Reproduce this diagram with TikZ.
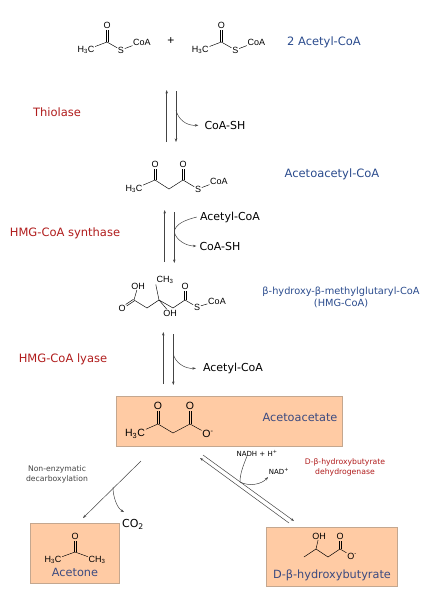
\documentclass[tikz,border=0pt]{standalone}
\usepackage{fontspec}
\setmainfont{DejaVu Sans}
\newfontfamily\atomfont{Liberation Sans}
\usepackage{xcolor}
\definecolor{enzymered}{HTML}{B01C1C}
\definecolor{metblue}{HTML}{2A4B8D}
\definecolor{boxblue}{HTML}{3B4A80}
\definecolor{boxfill}{HTML}{FFCBA4}
\definecolor{boxline}{HTML}{C4A78F}
\definecolor{linegrey}{HTML}{444444}
\usetikzlibrary{arrows.meta, positioning, calc}
\newcommand{\atomsize}[1]{\fontsize{#1}{#1}\selectfont}
\newcommand{\dblbond}[2]{%
  \draw[bond, shorten >=5pt] ($(#1)!0.9pt!90:(#2)$) -- ($(#2)!0.9pt!-90:(#1)$);
  \draw[bond, shorten >=5pt] ($(#1)!0.9pt!-90:(#2)$) -- ($(#2)!0.9pt!90:(#1)$);}

\begin{document}
\begin{tikzpicture}[
  x=1pt, y=-1pt,
  atom/.style={inner sep=0.6pt, font=\atomfont\atomsize{9}, text=black},
  bigatom/.style={inner sep=0.8pt, font=\atomfont\atomsize{10.5}, text=black},
  bond/.style={draw=black, line width=0.45pt},
  rxn/.style={draw=linegrey, line width=0.5pt, -{Stealth[length=3.5pt,width=2.5pt]}},
  sidearrow/.style={draw=linegrey, line width=0.5pt, -{Stealth[length=3.5pt,width=2.5pt]}},
  sideline/.style={draw=linegrey, line width=0.5pt},
  enzyme/.style={font=\atomsize{11.5}, text=enzymered, align=center, inner sep=0pt},
  metabolite/.style={font=\atomsize{11.5}, text=metblue, align=center, inner sep=0pt},
  cofactor/.style={font=\atomsize{11}, text=black, inner sep=3pt},
  smallnote/.style={font=\atomsize{7.7}, text=linegrey, align=center, inner sep=0pt},
  peachbox/.style={draw=boxline, fill=boxfill, line width=0.6pt, inner sep=0pt},
  boxlabel/.style={font=\atomsize{11.3}, text=boxblue, inner sep=0pt},
]
  \useasboundingbox (0,0) rectangle (424,600);

  % Acetyl-CoA pair
  \foreach \n/\dx in {a/0, b/114.3} {
    \node[atom] (h\n) at (86+\dx,50) {H\textsubscript{3}C};
    \coordinate (c\n) at (107+\dx,42);
    \node[atom] (o\n) at (107+\dx,25) {O};
    \node[atom] (s\n) at (121+\dx,50) {S};
    \node[atom] (coa\n) at (142+\dx,42) {CoA};
    \draw[bond] (h\n) -- (c\n) -- (s\n) -- (coa\n);
    \dblbond{c\n}{o\n}
  }
  \node[font=\atomfont\atomsize{12}, inner sep=0pt] (plus) at (171,41) {+};
  \node[metabolite] (acetylcoa) at (324,42) {2 Acetyl-CoA};

  % Thiolase
  \node[enzyme] (thiolase) at (57,112) {Thiolase};
  \coordinate (up1a) at (166.7,142); \coordinate (up1b) at (166.7,90);
  \coordinate (dn1a) at (176,91); \coordinate (dn1b) at (176,142);
  \coordinate (br1) at (176,110);
  \draw[rxn] (up1a) -- (up1b);
  \draw[rxn] (dn1a) -- (dn1b);
  \node[cofactor] (coash1) at (225,125) {CoA-SH};
  \draw[sidearrow, shorten >=3pt] (br1) .. controls (178,119) and (186,126) .. (coash1.west);

  % Acetoacetyl-CoA
  \node[atom] (aah) at (134,189) {H\textsubscript{3}C};
  \coordinate (aac1) at (155,180);
  \node[atom] (aao1) at (155,164) {O};
  \coordinate (aac2) at (169,189);
  \coordinate (aac3) at (183,180);
  \node[atom] (aao2) at (183,164) {O};
  \node[atom] (aas) at (198,189) {S};
  \node[atom] (aacoa) at (219,181) {CoA};
  \draw[bond] (aah) -- (aac1) -- (aac2) -- (aac3) -- (aas) -- (aacoa);
  \dblbond{aac1}{aao1}
  \dblbond{aac3}{aao2}
  \node[metabolite] (acetoacetylcoa) at (332,174) {Acetoacetyl-CoA};

  % HMG-CoA synthase
  \node[enzyme] (synthase) at (65,233) {HMG-CoA synthase};
  \coordinate (up2a) at (164.7,262); \coordinate (up2b) at (164.7,210);
  \coordinate (dn2a) at (174.3,212); \coordinate (dn2b) at (174.3,263);
  \coordinate (br2) at (174.3,232);
  \draw[rxn] (up2a) -- (up2b);
  \draw[rxn] (dn2a) -- (dn2b);
  \node[cofactor] (acetyl2) at (230,217) {Acetyl-CoA};
  \node[cofactor] (coash2) at (220,246) {CoA-SH};
  \draw[sideline] (acetyl2.west) .. controls (185,220) and (175,224) .. (br2);
  \draw[sidearrow] (br2) .. controls (176,240) and (186,246) .. (coash2.west);

  % HMG-CoA
  \node[atom] (hmgoh1) at (138,286) {OH};
  \coordinate (hmgc1) at (134,300);
  \node[atom] (hmgo1) at (122,308) {O};
  \coordinate (hmgc2) at (147,308);
  \coordinate (hmgc3) at (159,300);
  \node[atom] (hmgme) at (165,280) {CH\textsubscript{3}};
  \node[atom] (hmgoh2) at (170,313) {OH};
  \coordinate (hmgc4) at (173,308);
  \coordinate (hmgc5) at (185,300);
  \node[atom] (hmgo2) at (185,286) {O};
  \node[atom] (hmgs) at (197,307) {S};
  \node[atom] (hmgcoa) at (217,301) {CoA};
  \draw[bond] (hmgoh1) -- (hmgc1) -- (hmgc2) -- (hmgc3) -- (hmgc4) -- (hmgc5) -- (hmgs) -- (hmgcoa);
  \draw[bond] (hmgc3) -- (hmgme.south west);
  \draw[bond] (hmgc3) -- (hmgoh2);
  \dblbond{hmgc1}{hmgo1}
  \dblbond{hmgc5}{hmgo2}
  \node[metabolite, font=\atomsize{9.8}] (hmglabel) at (341,297) {β-hydroxy-β-methylglutaryl-CoA\\[2pt](HMG-CoA)};

  % HMG-CoA lyase
  \node[enzyme] (lyase) at (63,359) {HMG-CoA lyase};
  \coordinate (up3a) at (163.3,384); \coordinate (up3b) at (163.3,332);
  \coordinate (dn3a) at (173.3,334); \coordinate (dn3b) at (173.3,385);
  \coordinate (br3) at (173.3,354);
  \draw[rxn] (up3a) -- (up3b);
  \draw[rxn] (dn3a) -- (dn3b);
  \node[cofactor] (acetyl3) at (233,368) {Acetyl-CoA};
  \draw[sidearrow, shorten >=4pt] (br3) .. controls (175,362) and (184,369) .. (acetyl3.west);

  % Acetoacetate
  \node[peachbox, minimum width=225.3pt, minimum height=50.7pt] (acacbox) at (229.3,421.3) {};
  \node[bigatom] (ach) at (135,434) {H\textsubscript{3}C};
  \coordinate (acc1) at (158,424);
  \node[bigatom] (aco1) at (158,406) {O};
  \coordinate (acc2) at (173,433);
  \coordinate (acc3) at (190,424);
  \node[bigatom] (aco2) at (190,406) {O};
  \node[bigatom] (aco3) at (208,434) {O\textsuperscript{-}};
  \draw[bond] (ach) -- (acc1) -- (acc2) -- (acc3) -- (aco3);
  \dblbond{acc1}{aco1}
  \dblbond{acc3}{aco2}
  \node[boxlabel] (acaclabel) at (300,417) {Acetoacetate};

  % Decarboxylation
  \node[smallnote] (nonenz) at (57,474) {Non-enzymatic\\[2.5pt]decarboxylation};
  \coordinate (dec1) at (141,461); \coordinate (dec2) at (83,518);
  \coordinate (br4) at (113,487);
  \draw[rxn] (dec1) -- (dec2);
  \node[cofactor] (co2) at (133,524) {CO\textsubscript{2}};
  \draw[sidearrow] (br4) .. controls (113,497) and (117,508) .. (124,512);

  % Acetone
  \node[peachbox, minimum width=89pt, minimum height=60pt] (acetonebox) at (74.5,553) {};
  \node[atom] (aceo) at (75,536) {O};
  \coordinate (acec) at (75,552);
  \node[atom] (aceh) at (53,560) {H\textsubscript{3}C};
  \node[atom] (acem) at (97,560) {CH\textsubscript{3}};
  \draw[bond] (aceh) -- (acec) -- (acem);
  \dblbond{acec}{aceo}
  \node[boxlabel] (acetonelabel) at (75,572) {Acetone};

  % Dehydrogenase
  \coordinate (de1a) at (289,523); \coordinate (de1b) at (200,458);
  \coordinate (de2a) at (203,455); \coordinate (de2b) at (294,521);
  \coordinate (br5) at (240,482);
  \draw[rxn] (de1a) -- (de1b);
  \draw[rxn] (de2a) -- (de2b);
  \node[smallnote, font=\atomsize{7}, text=black] (nadh) at (257,453) {NADH + H\textsuperscript{+}};
  \node[smallnote, font=\atomsize{7}, text=black] (nad) at (279,471) {NAD\textsuperscript{+}};
  \draw[sideline] (nadh.south -| 247,459) .. controls (243,466) and (240,474) .. (br5);
  \draw[sidearrow] (br5) .. controls (250,487) and (262,484) .. (268,477);
  \node[enzyme, font=\atomsize{7.7}] (dehydrogenase) at (345,467.5) {D-β-hydroxybutyrate\\[2.5pt]dehydrogenase};

  % D-beta-hydroxybutyrate
  \node[peachbox, minimum width=131pt, minimum height=59pt] (dbhbox) at (331.5,556.5) {};
  \node[atom] (dboh) at (319,536) {OH};
  \coordinate (dbc1) at (316,549);
  \coordinate (dbc0) at (304,557);
  \coordinate (dbc2) at (328,557);
  \coordinate (dbc3) at (340,549);
  \node[atom] (dbo1) at (340,536) {O};
  \node[atom] (dbo2) at (352,556) {O\textsuperscript{-}};
  \draw[bond] (dbc0) -- (dbc1) -- (dbc2) -- (dbc3) -- (dbo2);
  \draw[bond] (dbc1) -- (dboh);
  \dblbond{dbc3}{dbo1}
  \node[boxlabel] (dbhlabel) at (332,575) {D-β-hydroxybutyrate};
\end{tikzpicture}
\end{document}
